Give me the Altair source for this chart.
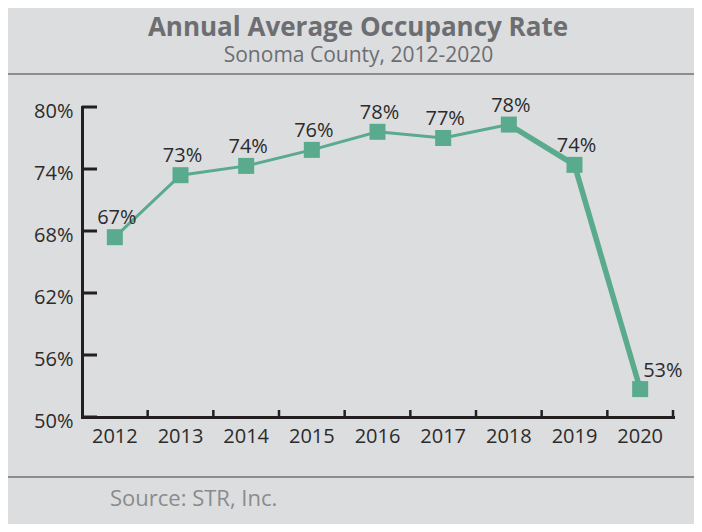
import altair as alt
import pandas as pd

years = ["2012", "2013", "2014", "2015", "2016", "2017", "2018", "2019", "2020"]
occupancy = [67.4, 73.4, 74.3, 75.85, 77.6, 77.0, 78.3, 74.4, 52.7]
point_labels = ["67%", "73%", "74%", "76%", "78%", "77%", "78%", "74%", "53%"]
y_ticks = [50, 56, 62, 68, 74, 80]
title_text = ["Annual Average Occupancy Rate"]
subtitle_text = ["Sonoma County, 2012-2020"]
source_text = ["Source: STR, Inc."]

df = pd.DataFrame({"year": years, "occ": occupancy, "label": point_labels})
df["n"] = df["year"].astype(int)

W, H = 591, 310
FONT = "Open Sans"
GREEN = "#5aaa8e"
DARK = "#231f20"
TEXT = "#2b2b2b"
GRAY = "#6d6e71"
BG = "#dcdddf"

xscale = alt.Scale(type="band", paddingInner=0, paddingOuter=0)
xaxis = alt.Axis(title=None, labelAngle=0, ticks=False, tickSize=0, labelPadding=9,
                 labelFontSize=20, labelFont=FONT, labelColor=TEXT,
                 domainColor=DARK, domainWidth=3, domainCap="square", grid=False)
yscale = alt.Scale(domain=[50, 80], nice=False, zero=False)
yaxis = alt.Axis(title=None, values=y_ticks, labelExpr="datum.value + '%'", ticks=False,
                 tickSize=0, labelPadding=9, labelOffset=4, labelFontSize=20, labelFont=FONT,
                 labelColor=TEXT, domainColor=DARK, domainWidth=3, domainCap="square", grid=False)

X = alt.X("year:O", scale=xscale, axis=xaxis)
Y = alt.Y("occ:Q", scale=yscale, axis=yaxis)

base = alt.Chart(df)

thin = base.transform_filter("datum.n <= 2018").mark_line(color=GREEN, strokeWidth=3).encode(x=X, y=Y)
thick = base.transform_filter("datum.n >= 2018").mark_line(color=GREEN, strokeWidth=5.5).encode(x=X, y=Y)
pts = base.mark_point(shape="square", filled=True, size=256, opacity=1, color=GREEN).encode(x=X, y=Y)
lab = base.transform_filter("datum.n < 2020").mark_text(
    font=FONT, fontSize=20, color=TEXT, align="center", baseline="alphabetic", dx=2, dy=-13
).encode(x=X, y=Y, text="label:N")
lab_last = base.transform_filter("datum.n == 2020").mark_text(
    font=FONT, fontSize=20, color=TEXT, align="left", baseline="alphabetic", dx=3, dy=-12
).encode(x=X, y=Y, text="label:N")

# inward axis ticks
ytick = alt.Chart(pd.DataFrame({"occ": y_ticks})).mark_rule(color=DARK, strokeWidth=3).encode(
    y=Y, x=alt.value(0), x2=alt.value(15))
xtick = alt.Chart(pd.DataFrame({"year": years[1:]})).mark_rule(color=DARK, strokeWidth=2.5).encode(
    x=alt.X("year:O", scale=xscale, axis=xaxis, bandPosition=0), y=alt.value(H - 7), y2=alt.value(H))
xtick_end = alt.Chart(pd.DataFrame({"year": years[-1:]})).mark_rule(color=DARK, strokeWidth=2.5).encode(
    x=alt.X("year:O", scale=xscale, axis=xaxis, bandPosition=1), y=alt.value(H - 7), y2=alt.value(H))

# header / footer
title = alt.Chart(pd.DataFrame({"t": title_text})).mark_text(
    font=FONT, fontSize=26, fontWeight="bold", color=GRAY, align="center", baseline="alphabetic"
).encode(x=alt.value(276), y=alt.value(-71), text="t:N")
subtitle = alt.Chart(pd.DataFrame({"t": subtitle_text})).mark_text(
    font=FONT, fontSize=21, color=GRAY, align="center", baseline="alphabetic"
).encode(x=alt.value(276.5), y=alt.value(-45), text="t:N")
sep_top = alt.Chart(pd.DataFrame({"t": [0]})).mark_rule(color="#8c8d8f", strokeWidth=2).encode(
    x=alt.value(-74), x2=alt.value(625), y=alt.value(-33))
sep_bot = alt.Chart(pd.DataFrame({"t": [0]})).mark_rule(color="#8c8d8f", strokeWidth=2).encode(
    x=alt.value(-74), x2=alt.value(625), y=alt.value(370))
source = alt.Chart(pd.DataFrame({"t": source_text})).mark_text(
    font=FONT, fontSize=22, color="#8a8b8d", align="left", baseline="alphabetic"
).encode(x=alt.value(28), y=alt.value(398.5), text="t:N")

chart = alt.layer(
    sep_top, sep_bot, title, subtitle, source,
    ytick, xtick, xtick_end,
    thin, thick, pts, lab, lab_last
).properties(
    width=W, height=H,
    autosize=alt.AutoSizeParams(type="none"),
    padding={"left": 74, "top": 99, "right": 21, "bottom": 107},
    background=BG,
).configure_view(stroke=None)

chart.save("out.html", embed_options={"renderer": "svg", "actions": False})
